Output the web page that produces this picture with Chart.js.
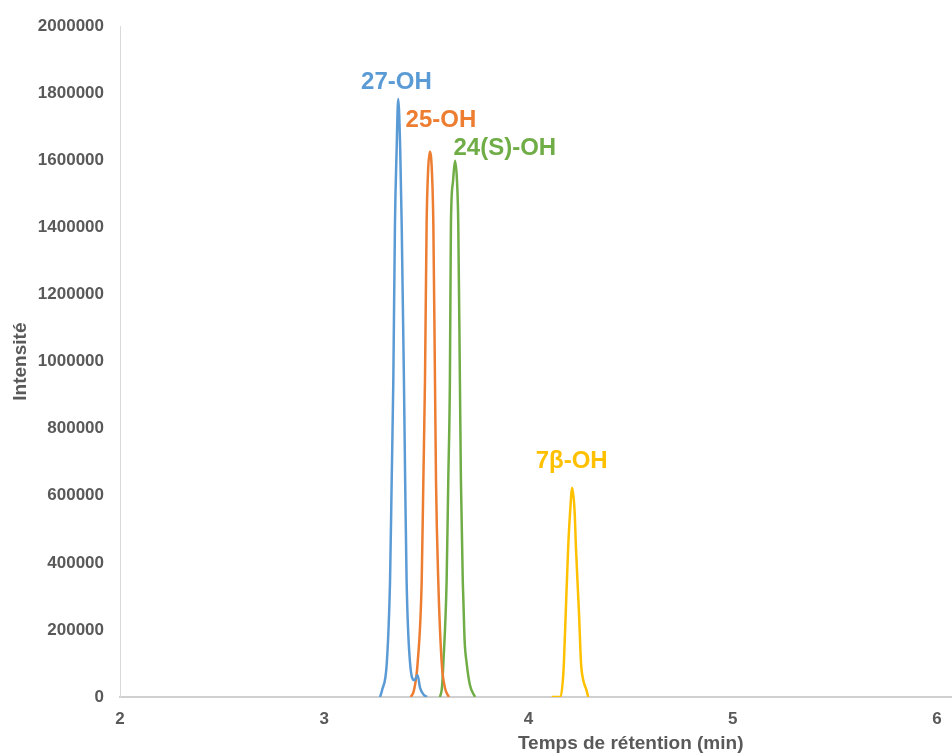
<!DOCTYPE html>
<html>
<head>
<meta charset="utf-8">
<script src="https://cdn.jsdelivr.net/npm/chart.js@4.4.1/dist/chart.umd.min.js"></script>
<style>
  body { margin: 0; background: #fff; }
  #wrap { width: 952px; height: 753px; position: relative; }
</style>
</head>
<body>
<div id="wrap"><canvas id="chrom"></canvas></div>
<script>
// retention time (min) / intensity
var blueT = [3.273, 3.283, 3.306, 3.322, 3.330, 3.338, 3.346, 3.354, 3.362, 3.372, 3.379, 3.390, 3.396, 3.403, 3.420, 3.441, 3.457, 3.469, 3.488, 3.503];
var blueI = [0, 20000, 101000, 348000, 645000, 942000, 1409000, 1626000, 1783000, 1626000, 1409000, 942000, 645000, 348000, 101000, 50000, 65000, 27000, 6000, 0];

var orangeT = [3.424, 3.439, 3.457, 3.477, 3.485, 3.493, 3.501, 3.508, 3.517, 3.527, 3.534, 3.542, 3.547, 3.558, 3.575, 3.591, 3.610];
var orangeI = [0, 20000, 101000, 348000, 645000, 942000, 1409000, 1566000, 1626000, 1566000, 1409000, 942000, 645000, 348000, 101000, 27000, 0];

var greenT = [3.566, 3.576, 3.583, 3.599, 3.607, 3.615, 3.620, 3.630, 3.640, 3.650, 3.656, 3.664, 3.669, 3.678, 3.681, 3.687, 3.697, 3.713, 3.738];
var greenI = [0, 27000, 101000, 348000, 645000, 942000, 1409000, 1536000, 1599000, 1536000, 1409000, 942000, 645000, 348000, 288000, 169000, 101000, 36000, 0];

var yellowT = [4.113, 4.157, 4.168, 4.173, 4.182, 4.194, 4.203, 4.214, 4.226, 4.232, 4.247, 4.257, 4.268, 4.284, 4.292];
var yellowI = [0, 0, 50000, 101000, 250000, 446000, 547000, 624000, 547000, 446000, 250000, 101000, 50000, 20000, 0];

// peak labels
var peakNames = ['27-OH', '25-OH', '24(S)-OH', '7\u03b2-OH'];
var labelT = [3.353, 3.571, 3.884, 4.211];
var labelI = [1834000, 1718000, 1637000, 704000];
var peakColors = ['#5B9BD5', '#ED7D31', '#70AD47', '#FFC000'];

var FONT = '"Liberation Sans", Arial, sans-serif';
var GREY = '#595959';

function pts(T, I) {
    return T.map(function (t, i) { return {x: t, y: I[i]}; });
}

function serie(name, T, I, col) {
    return {
        label: name,
        data: pts(T, I),
        borderColor: col,
        backgroundColor: col,
        borderWidth: 2.5,
        pointRadius: 0,
        fill: false,
        cubicInterpolationMode: 'monotone'
    };
}

var peakLabels = {
    id: 'peakLabels',
    afterDatasetsDraw: function (chart) {
        var ctx = chart.ctx;
        var xs = chart.scales.x, ys = chart.scales.y;
        ctx.save();
        ctx.font = 'bold 24px ' + FONT;
        ctx.textAlign = 'center';
        ctx.textBaseline = 'middle';
        for (var i = 0; i < peakNames.length; i++) {
            ctx.fillStyle = peakColors[i];
            ctx.fillText(peakNames[i], xs.getPixelForValue(labelT[i]), ys.getPixelForValue(labelI[i]));
        }
        // x axis title (centred on the uncropped axis)
        ctx.fillStyle = GREY;
        ctx.font = 'bold 19px ' + FONT;
        ctx.fillText('Temps de rétention (min)', xs.getPixelForValue(4.5), 744);
        ctx.restore();
    }
};

new Chart(document.getElementById('chrom'), {
    type: 'line',
    data: {
        datasets: [
            serie('27-OH', blueT, blueI, peakColors[0]),
            serie('25-OH', orangeT, orangeI, peakColors[1]),
            serie('24(S)-OH', greenT, greenI, peakColors[2]),
            serie('7β-OH', yellowT, yellowI, peakColors[3])
        ]
    },
    options: {
        responsive: true,
        maintainAspectRatio: false,
        animation: false,
        layout: {padding: {top: 24, right: 0, bottom: 0, left: 0}},
        plugins: {legend: {display: false}, tooltip: {enabled: false}},
        scales: {
            x: {
                type: 'linear',
                min: 2,
                max: 6.073,
                grid: {display: false, drawTicks: false},
                border: {display: true, color: '#D0D0D0', width: 2},
                ticks: {
                    stepSize: 1,
                    includeBounds: false,
                    padding: 12,
                    color: GREY,
                    font: {family: FONT, size: 17, weight: 'bold'},
                    maxRotation: 0
                },
                afterFit: function (scale) {
                    scale.height = 56;
                    scale.paddingRight = 0;
                }
            },
            y: {
                min: 0,
                max: 2000000,
                grid: {display: false, drawTicks: false},
                border: {display: true, color: '#D9D9D9', width: 1},
                ticks: {
                    stepSize: 200000,
                    padding: 16,
                    color: GREY,
                    font: {family: FONT, size: 17, weight: 'bold'},
                    callback: function (v) { return String(v); }
                },
                title: {
                    display: true,
                    text: 'Intensité',
                    color: GREY,
                    font: {family: FONT, size: 19, weight: 'bold'},
                    padding: {top: 9, bottom: 0}
                },
                afterFit: function (scale) { scale.width = 120; }
            }
        }
    },
    plugins: [peakLabels]
});
</script>
</body>
</html>
